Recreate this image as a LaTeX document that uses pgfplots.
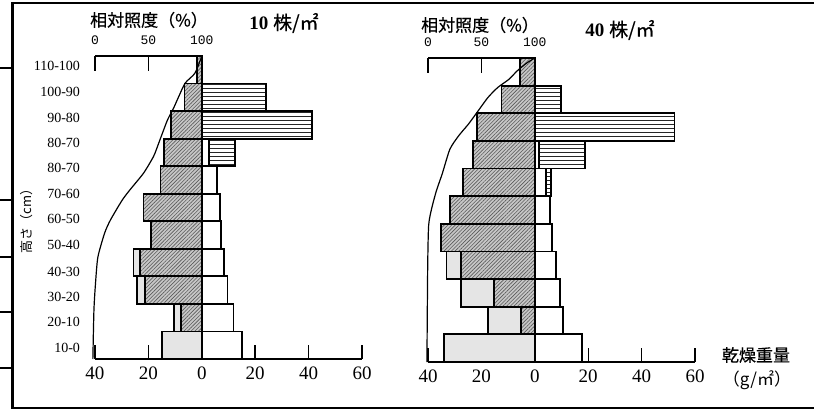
\documentclass[border=0pt]{standalone}
\usepackage{pgfplots}
\pgfplotsset{compat=1.18}
\usetikzlibrary{patterns,patterns.meta}
\usepackage{fontspec}
\setmainfont{Liberation Serif}
\newfontfamily\cjk[FakeBold=0.6]{Noto Sans CJK JP}
\newfontfamily\cjkr{Noto Sans CJK JP}
\newfontfamily\mono{Liberation Mono}

\pgfplotsset{
  layer/.style={xbar, bar width=10, bar shift=0pt, draw=black, line width=0.9pt},
  leafbar/.style={layer, fill=black!22, postaction={pattern={Lines[angle=45,distance=1.3pt,line width=0.3pt]}, pattern color=black!65}},
  deadbar/.style={layer, fill=black!10},
  reprobar/.style={layer, fill=white, postaction={pattern={Lines[angle=0,distance=2pt,line width=0.45pt]}, pattern color=black!85}},
  stembar/.style={layer, fill=white},
  dryaxis/.style={
    anchor=south west, scale only axis, width=133.5pt,
    xmin=-40, xmax=60, ymin=0, ymax=110, clip=false,
    axis x line*=bottom,
    x axis line style={line width=0.8pt},
    xtick={-40,-20,0,20,40,60}, xticklabels={40,20,0,20,40,60},
    tick align=inside, major tick length=7pt,
    xtick style={line width=0.7pt, black},
    xticklabel style={font=\fontsize{9.5}{10}\selectfont, yshift=-0.5pt},
  },
  lightaxis/.style={
    anchor=south west, scale only axis, width=133.5pt,
    xmin=0, xmax=250, ymin=0, ymax=110, clip=false,
    axis x line*=top, axis y line=none,
    x axis line style={draw=none},
    xtick={0,50,100}, xticklabels={0,50,100},
    tick align=inside, major tick length=7.5pt,
    xtick style={line width=0.7pt, black},
    xticklabel style={font=\mono\fontsize{6.5}{7}\selectfont, yshift=2pt},
  },
}

\begin{document}
\begin{tikzpicture}
\useasboundingbox (0pt,0pt) rectangle (407pt,-206pt);
% frame and stray lines from the page
\draw[line width=1.2pt] (420pt,-1.5pt) -- (6.25pt,-1.5pt) -- (6.25pt,-204pt) -- (420pt,-204pt);
\draw[line width=0.6pt] (0pt,-34pt) -- (6.25pt,-34pt);
\draw[line width=0.6pt] (0pt,-100pt) -- (6.25pt,-100pt);
\draw[line width=0.6pt] (0pt,-128.5pt) -- (6.25pt,-128.5pt);
\draw[line width=0.6pt] (0pt,-156pt) -- (6.25pt,-156pt);
\draw[line width=0.6pt] (0pt,-184pt) -- (6.25pt,-184pt);

% ---------------- left panel: 10 plants per m2 ----------------
\begin{axis}[dryaxis, at={(47.5pt,-179.5pt)}, height=151.5pt,
  axis y line*=left, y axis line style={draw=none}, ytick style={draw=none},
  ytick={4.0,13.4,22.5,31.6,41.4,50.8,59.9,69.3,78.4,87.5,97.0,106.4},
  yticklabels={10-0,20-10,30-20,40-30,50-40,60-50,70-60,80-70,80-70,90-80,100-90,110-100},
  yticklabel style={font=\fontsize{7}{8}\selectfont, xshift=-4pt},
]
\addplot[deadbar] coordinates {(-14.9,5) (-10.3,15) (-24.4,25) (-25.6,35)};
\addplot[leafbar] coordinates {(-7.7,15) (-21.4,25) (-23.2,35) (-19.1,45) (-21.8,55) (-15.5,65) (-14.3,75) (-11.6,85) (-6.5,95) (-1.7,105)};
\addplot[reprobar] coordinates {(12.3,75) (41.2,85) (23.9,95)};
\addplot[stembar] coordinates {(15.1,5) (11.9,15) (9.6,25) (8.3,35) (7.3,45) (6.8,55) (5.8,65) (2.6,75)};
\end{axis}
\begin{axis}[lightaxis, at={(47.5pt,-179.5pt)}, height=151.5pt]
\draw[line width=0.8pt] (axis cs:0,110) -- (axis cs:100,110);
\addplot[black, line width=0.6pt, smooth, tension=0.4] coordinates {
(100,110) (93.6,103.8) (84.5,100.2) (78.2,95.1) (73.6,91.1) (67.9,86.8)
(61.8,80.6) (57.3,75.9) (54.5,73.3) (45.5,67.5) (32.7,61.4) (25.5,57.7)
(14.5,50.5) (9,45.7) (2.7,37) (0.5,27.6) (-1,17.8) (-2,0)};
\end{axis}

% ---------------- right panel: 40 plants per m2 ----------------
\begin{axis}[dryaxis, at={(214pt,-181pt)}, height=152pt, axis y line=none]
\addplot[deadbar] coordinates {(-33.9,5) (-17.6,15) (-27.6,25) (-33.1,35)};
\addplot[leafbar] coordinates {(-5.1,15) (-15.4,25) (-27.6,35) (-35.1,45) (-31.9,55) (-26.9,65) (-23.0,75) (-21.5,85) (-12.5,95) (-5.4,105)};
\addplot[reprobar] coordinates {(6.1,65) (18.9,75) (52.3,85) (9.9,95)};
\addplot[stembar] coordinates {(17.6,5) (10.5,15) (9.5,25) (7.9,35) (6.4,45) (5.7,55) (4.1,65) (1.5,75)};
\end{axis}
\begin{axis}[lightaxis, at={(214pt,-181pt)}, height=152pt]
\draw[line width=0.8pt] (axis cs:0,110) -- (axis cs:100,110);
\addplot[black, line width=0.6pt, smooth, tension=0.4] coordinates {
(100,110) (92.5,108.2) (83.4,105.3) (75.8,102.3) (65.2,99.3) (56.1,95.7)
(47,90.9) (37.9,86.1) (28.8,81.9) (20.5,77) (13.4,68.2) (7.9,62)
(3.4,55.5) (0.6,49.4) (-0.3,34.3) (-1,0)};
\end{axis}

% ---------------- texts ----------------
\node[font=\cjk\fontsize{8.5}{9}\selectfont] at (74.5pt,-10pt) {相対照度（\%）};
\node[font=\fontsize{9.5}{10}\selectfont] at (142pt,-11.5pt) {\textbf{10} {\cjk 株/㎡}};
\node[font=\cjk\fontsize{8.5}{9}\selectfont] at (240pt,-12.5pt) {相対照度（\%）};
\node[font=\fontsize{9.5}{10}\selectfont] at (310pt,-15pt) {\textbf{40} {\cjk 株/㎡}};
\node[font=\cjk\fontsize{8.5}{9}\selectfont] at (378pt,-177.5pt) {乾燥重量};
\node[font=\cjkr\fontsize{8.5}{9}\selectfont] at (378.5pt,-190pt) {（g/㎡）};
\node[font=\cjkr\fontsize{6.5}{7}\selectfont, rotate=90] at (13.5pt,-109pt) {高さ（cm）};
\end{tikzpicture}
\end{document}
